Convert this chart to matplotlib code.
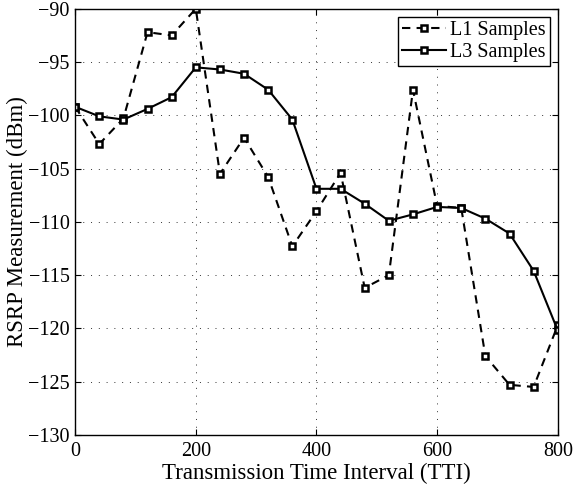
import matplotlib.pyplot as plt

plt.rcParams['font.family'] = ['Liberation Serif', 'DejaVu Serif']
plt.rcParams['mathtext.fontset'] = 'stix'

tti = [0, 40, 80, 120, 160, 200, 240, 280, 320, 360, 400,
       440, 480, 520, 560, 600, 640, 680, 720, 760, 800]
l1_samples = [-99.2, -102.7, -100.3, -92.2, -92.5, -90.0, -105.5, -102.1, -105.8, -112.3, -109.0,
              -105.4, -116.2, -115.0, -97.6, -108.5, -108.7, -122.6, -125.3, -125.5, -119.7]
l3_samples = [-99.2, -100.1, -100.4, -99.4, -98.3, -95.5, -95.7, -96.1, -97.6, -100.4, -106.9,
              -106.9, -108.3, -109.9, -109.3, -108.6, -108.7, -109.7, -111.1, -114.6, -120.2]
xticks = [0, 200, 400, 600, 800]
yticks = [-130, -125, -120, -115, -110, -105, -100, -95, -90]

fig = plt.figure(figsize=(5.78, 4.87), dpi=100)
ax = fig.add_axes([0.130, 0.107, 0.835, 0.875])

ax.plot(tti, l1_samples, linestyle='--', dashes=(4, 3), color='black', linewidth=1.5,
        marker='s', markersize=5, markerfacecolor='white', markeredgecolor='black',
        markeredgewidth=1.8, label='L1 Samples')
ax.plot(tti, l3_samples, linestyle='-', color='black', linewidth=1.5,
        marker='s', markersize=5, markerfacecolor='white', markeredgecolor='black',
        markeredgewidth=1.8, label='L3 Samples')

ax.set_xlim(0, 800)
ax.set_ylim(-130, -90)
ax.set_xticks(xticks)
ax.set_yticks(yticks)
ax.tick_params(direction='in', top=True, right=True, labelsize=14.5, length=4)
ax.tick_params(axis='x', pad=5)
ax.tick_params(axis='y', pad=4)
ax.grid(True, linestyle=(0, (1, 7)), color='#333333', linewidth=0.7)
for s in ax.spines.values():
    s.set_linewidth(1.0)

ax.set_xlabel('Transmission Time Interval (TTI)', fontsize=16.5, labelpad=1.5)
ax.set_ylabel('RSRP Measurement (dBm)', fontsize=16.5, labelpad=0)

leg = ax.legend(loc='upper right', fontsize=14.5, fancybox=False, framealpha=1,
                edgecolor='black', borderpad=0.2, handlelength=2.2, handletextpad=0.2,
                labelspacing=0.15, borderaxespad=0.4)
leg.get_frame().set_linewidth(1.0)

fig.savefig('out.png', dpi=100)
